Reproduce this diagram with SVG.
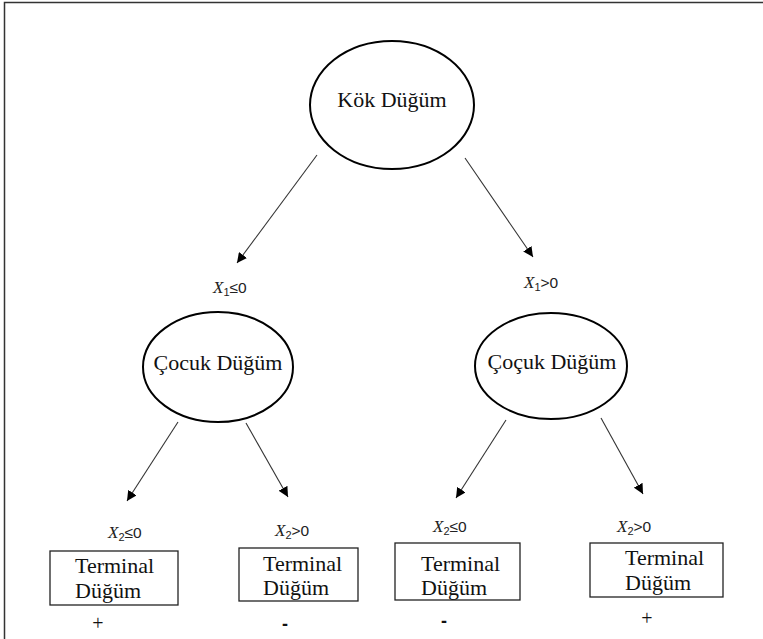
<svg xmlns="http://www.w3.org/2000/svg" width="763" height="639" viewBox="0 0 763 639">
<style>
.ell{fill:#fff;stroke:#000;stroke-width:2}
.box{fill:#fff;stroke:#222;stroke-width:1.3}
.t{font-family:"Liberation Serif","Times New Roman",serif;font-size:22px;fill:#111}
.tt{font-family:"Liberation Serif","Times New Roman",serif;font-size:22px;fill:#111}
.lbl{font-family:"Liberation Sans",Arial,sans-serif;font-size:15.5px;fill:#222}
.x{font-family:"Liberation Serif","Times New Roman",serif;font-style:italic;font-size:17px}
.sub{font-size:11px}
.sign{font-family:"Liberation Serif","Times New Roman",serif;font-size:20px;fill:#111}
.minus{font-family:"Liberation Sans",Arial,sans-serif;font-weight:bold;font-size:18px;fill:#111}
.con line{stroke:#333;stroke-width:1.1;marker-end:url(#ah)}
</style>
<defs>
<marker id="ah" viewBox="0 0 10 10" refX="10" refY="5" markerWidth="10" markerHeight="10" markerUnits="userSpaceOnUse" orient="auto">
<path d="M0,0 L10,5 L0,10 z" fill="#000"/>
</marker>
</defs>
<rect x="0" y="0" width="763" height="639" fill="#fff"/>
<path d="M4.5,639 V2.5 H763" fill="none" stroke="#333" stroke-width="1.5"/>

<g class="con">
<line x1="317" y1="155" x2="237" y2="263"/>
<line x1="465" y1="158" x2="533" y2="257"/>
<line x1="178" y1="422" x2="127" y2="501"/>
<line x1="246" y1="423" x2="288" y2="497"/>
<line x1="506" y1="420" x2="456" y2="498"/>
<line x1="601" y1="418" x2="643" y2="494"/>
</g>

<g id="root">
<ellipse class="ell" cx="392" cy="105" rx="82" ry="64"/>
<text class="t" x="392" y="107" text-anchor="middle">Kök Düğüm</text>
</g>

<g id="label-x1-le">
<text class="lbl" x="213" y="293"><tspan class="x">X</tspan><tspan class="sub" dy="3">1</tspan><tspan dy="-3">≤0</tspan></text>
</g>
<g id="label-x1-gt">
<text class="lbl" x="524" y="288"><tspan class="x">X</tspan><tspan class="sub" dy="3">1</tspan><tspan dy="-3">&gt;0</tspan></text>
</g>

<g id="child-left">
<ellipse class="ell" cx="218" cy="367" rx="75" ry="55"/>
<text class="t" x="218" y="370" text-anchor="middle">Çocuk Düğüm</text>
</g>
<g id="child-right">
<ellipse class="ell" cx="551" cy="366" rx="76" ry="53"/>
<text class="t" x="552" y="369" text-anchor="middle">Çoçuk Düğüm</text>
</g>

<g id="term1">
<text class="lbl" x="108" y="538"><tspan class="x">X</tspan><tspan class="sub" dy="3">2</tspan><tspan dy="-3">≤0</tspan></text>
<rect class="box" x="50" y="551" width="128" height="54"/>
<text class="tt" x="75" y="573">Terminal</text>
<text class="tt" x="75" y="598">Düğüm</text>
<text class="sign" x="98" y="630" text-anchor="middle">+</text>
</g>
<g id="term2">
<text class="lbl" x="275" y="536"><tspan class="x">X</tspan><tspan class="sub" dy="3">2</tspan><tspan dy="-3">&gt;0</tspan></text>
<rect class="box" x="239" y="548" width="119" height="53"/>
<text class="tt" x="263" y="571">Terminal</text>
<text class="tt" x="263" y="595">Düğüm</text>
<text class="minus" x="285" y="630" text-anchor="middle">-</text>
</g>
<g id="term3">
<text class="lbl" x="433" y="532"><tspan class="x">X</tspan><tspan class="sub" dy="3">2</tspan><tspan dy="-3">≤0</tspan></text>
<rect class="box" x="395" y="543" width="125" height="57"/>
<text class="tt" x="421" y="571">Terminal</text>
<text class="tt" x="421" y="595">Düğüm</text>
<text class="minus" x="444" y="627" text-anchor="middle">-</text>
</g>
<g id="term4">
<text class="lbl" x="617" y="532"><tspan class="x">X</tspan><tspan class="sub" dy="3">2</tspan><tspan dy="-3">&gt;0</tspan></text>
<rect class="box" x="590" y="543" width="133" height="54"/>
<text class="tt" x="625" y="565">Terminal</text>
<text class="tt" x="625" y="590">Düğüm</text>
<text class="sign" x="647" y="625" text-anchor="middle">+</text>
</g>
</svg>
